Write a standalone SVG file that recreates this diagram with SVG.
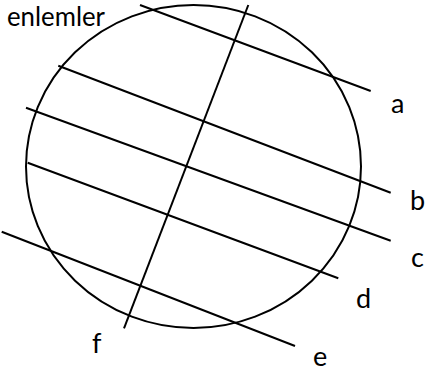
<svg xmlns="http://www.w3.org/2000/svg" width="425" height="374" viewBox="0 0 425 374">
<style>
.s{fill:none;stroke:#000;stroke-width:2}
.t{font-family:Lato,"Open Sans","Liberation Sans",sans-serif;fill:#000}
</style>
<rect width="425" height="374" fill="#fff"/>
<g id="globe"><ellipse class="s" cx="193.5" cy="166.5" rx="167.5" ry="161.5"/></g>
<g id="connectors">
<line class="s" x1="140" y1="5" x2="370.7" y2="91"/>
<line class="s" x1="58.3" y1="65.7" x2="390.7" y2="192.7"/>
<line class="s" x1="26" y1="107.7" x2="390.7" y2="240.7"/>
<line class="s" x1="27.7" y1="162.7" x2="338.3" y2="278.3"/>
<line class="s" x1="1.7" y1="231.7" x2="295" y2="346"/>
<line class="s" x1="248.3" y1="5" x2="124" y2="328.3"/>
</g>
<g id="title"><text class="t" x="7" y="26" font-size="26" textLength="98" lengthAdjust="spacingAndGlyphs">enlemler</text></g>
<g id="label-a"><text class="t" x="391" y="113" font-size="27">a</text></g>
<g id="label-b"><text class="t" x="410" y="210" font-size="27">b</text></g>
<g id="label-c"><text class="t" x="411" y="267" font-size="27">c</text></g>
<g id="label-d"><text class="t" x="356" y="308" font-size="27">d</text></g>
<g id="label-e"><text class="t" x="313" y="366" font-size="27">e</text></g>
<g id="label-f"><text class="t" x="92" y="353" font-size="27">f</text></g>
</svg>
